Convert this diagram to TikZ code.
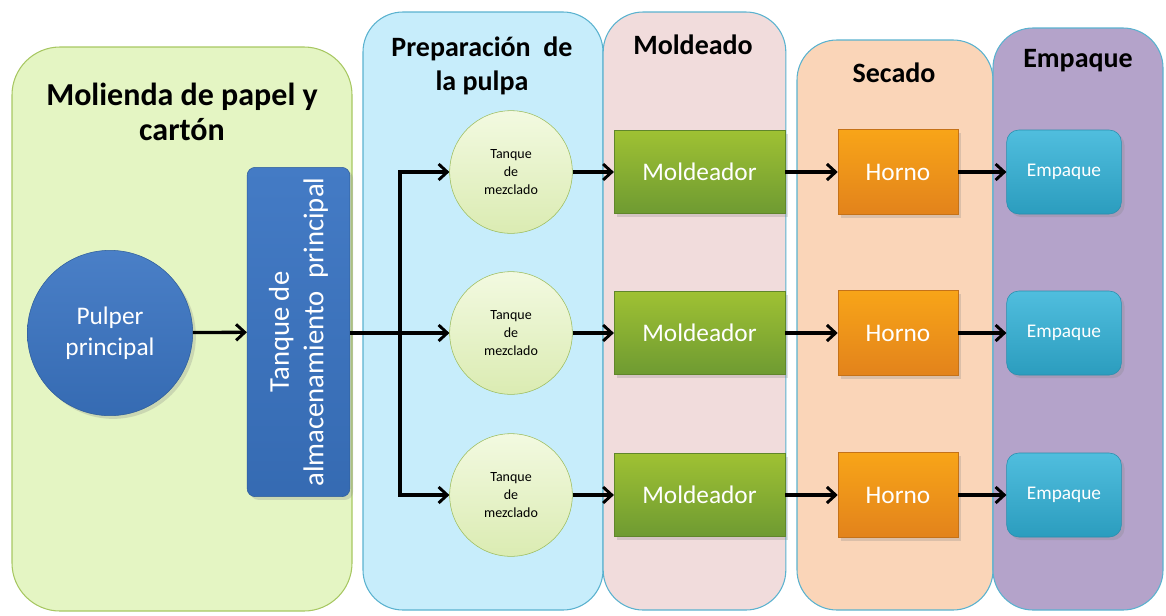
\documentclass[tikz,border=0pt]{standalone}
\usepackage{fontspec}
\setmainfont{Carlito}
\usepackage{xcolor}
\usepackage{tikz}
\usetikzlibrary{arrows.meta,positioning,shadows}

\definecolor{molFill}{HTML}{E4F5C3}
\definecolor{molLine}{HTML}{A7C762}
\definecolor{prepFill}{HTML}{C7EDFB}
\definecolor{moldFill}{HTML}{F1DCDC}
\definecolor{secFill}{HTML}{FAD5B8}
\definecolor{empFill}{HTML}{B4A3CA}
\definecolor{panLine}{HTML}{5AB2CF}
\definecolor{pulpBlue}{HTML}{3A74C2}
\definecolor{mixFill}{HTML}{E6F4C2}
\definecolor{mixLine}{HTML}{9BBB59}
\definecolor{moldGreen}{HTML}{78A836}
\definecolor{hornOrange}{HTML}{F68E1E}
\definecolor{empCyan}{HTML}{31B2D8}

\begin{document}
\begin{tikzpicture}[
  x=0.75pt, y=-0.75pt,
  >={Straight Barb[length=6.5pt,width=12pt,line width=2.2pt]},
  panel/.style={rectangle,rounded corners=30pt,draw=panLine,line width=0.8pt,inner sep=0pt},
  title/.style={align=center,font=\bfseries\fontsize{21}{26}\selectfont},
  flow/.style={->,line width=2.5pt},
  bigcircle/.style={circle,draw=pulpBlue!80!black,inner sep=0pt,minimum size=124pt,
    top color=pulpBlue!92!white,bottom color=pulpBlue!92!black,text=white,align=center,
    font=\fontsize{19}{23}\selectfont,drop shadow={opacity=0.25}},
  tankbox/.style={rectangle,rounded corners=6pt,draw=pulpBlue!80!black,minimum width=77pt,
    minimum height=247pt,top color=pulpBlue!95!white,bottom color=pulpBlue!92!black,
    drop shadow={opacity=0.25}},
  mixer/.style={circle,draw=mixLine,inner sep=0pt,minimum size=92pt,top color=mixFill!50!white,
    bottom color=mixFill!85!mixLine,align=center,font=\fontsize{10.5}{13.5}\selectfont},
  molder/.style={rectangle,draw=moldGreen!80!black,minimum width=128pt,minimum height=62pt,
    top color=moldGreen!75!yellow!95!white,bottom color=moldGreen!92!black,text=white,
    font=\fontsize{19}{22}\selectfont,drop shadow={opacity=0.25}},
  oven/.style={rectangle,draw=hornOrange!80!black,minimum width=90pt,minimum height=64pt,
    top color=hornOrange!80!yellow,bottom color=hornOrange!92!black,text=white,
    font=\fontsize{19}{22}\selectfont,drop shadow={opacity=0.25}},
  packer/.style={rectangle,rounded corners=9pt,draw=empCyan!80!black,minimum width=86pt,
    minimum height=63pt,top color=empCyan!85!white,bottom color=empCyan!88!black,text=white,
    font=\fontsize{14.5}{17}\selectfont,drop shadow={opacity=0.25}}
]
\useasboundingbox (0,0) rectangle (1166,615);

% panels
\node[panel,fill=molFill,draw=molLine,rounded corners=36pt,minimum width=255pt,minimum height=423pt] (molienda) at (182,329) {};
\node[panel,fill=prepFill,minimum width=180pt,minimum height=448.5pt] (prep) at (483,311) {};
\node[panel,fill=moldFill,minimum width=137pt,minimum height=448.5pt] (moldeado) at (694.5,311) {};
\node[panel,fill=secFill,minimum width=147pt,minimum height=427.5pt] (secado) at (895,325) {};
\node[panel,fill=empFill,minimum width=127.5pt,minimum height=436.5pt] (empaque) at (1078,319) {};

% titles
\node[title,font=\bfseries\fontsize{24}{26.5}\selectfont] (tmol) at (182,112) {Molienda de papel y\\cartón};
\node[title] (tprep) at (482,66) {Preparación\ \ de\\la pulpa};
\node[title] (tmold) at (693,45) {Moldeado};
\node[title] (tsec) at (894,73) {Secado};
\node[title] (temp) at (1078,61) {Empaque};

% first stage
\node[bigcircle] (pulper) at (110,333) {Pulper\\principal};
\node[tankbox] (tank) at (298.5,332) {};
\node[rotate=90,align=center,text=white,font=\fontsize{21.5}{26}\selectfont] at (tank.center) {Tanque de\\almacenamiento\ \ principal};
\coordinate (split) at (400,333);

% lines of production
\foreach \i/\y in {1/172,2/333,3/495} {
  \node[mixer] (mix\i) at (511,\y) {Tanque\\de\\mezclado};
  \node[molder] (mold\i) at (699.5,\y) {Moldeador};
  \node[oven] (horno\i) at (898,\y) {Horno};
  \node[packer] (pack\i) at (1064,\y) {Empaque};
}

% arrows
\draw[flow] (pulper) -- (tank);
\draw[line width=2.5pt] (tank.east |- split) -- (split);
\draw[flow] (split) -- (mix2);
\draw[flow] (split) |- (mix1);
\draw[flow] (split) |- (mix3);
\foreach \i in {1,2,3} {
  \draw[flow] (mix\i) -- (mold\i);
  \draw[flow] (mold\i) -- (horno\i);
  \draw[flow] (horno\i) -- (pack\i);
}
\end{tikzpicture}
\end{document}
